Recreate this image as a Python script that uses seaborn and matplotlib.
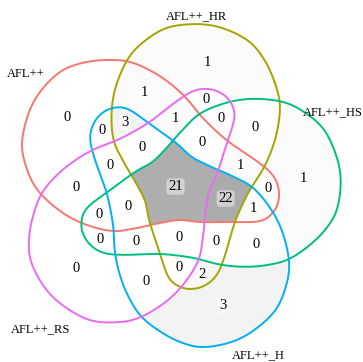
import numpy as np
import pandas as pd
import matplotlib
matplotlib.use("Agg")
import matplotlib.pyplot as plt
import seaborn as sns
from matplotlib.path import Path
from matplotlib.colors import LinearSegmentedColormap

sns.set_theme(style="white")
plt.rcParams["font.family"] = ["Liberation Serif", "DejaVu Serif"]

set_names = ["AFL++", "AFL++_HR", "AFL++_HS", "AFL++_H", "AFL++_RS"]
set_colors = ["#F8766D", "#A3A500", "#00BF7D", "#00B0F6", "#E76BF3"]

# membership string: one flag per set, in set_names order
region_codes = [
    "10000", "01000", "00100", "00010", "00001",
    "11000", "10100", "10010", "10001", "01100",
    "01010", "01001", "00110", "00101", "00011",
    "11100", "11010", "11001", "10110", "10101",
    "10011", "01110", "01101", "01011", "00111",
    "11110", "11101", "11011", "10111", "01111",
    "11111",
]
region_counts = [
    0, 1, 1, 3, 0,
    1, 0, 0, 0, 0,
    2, 0, 0, 0, 0,
    1, 3, 1, 1, 0,
    0, 0, 0, 0, 0,
    22, 0, 0, 0, 0,
    21,
]

# canvas in pixel units, y pointing down
W, H, DPI = 363, 362, 100
CENTER = (175.5, 186.5)
# outline of the first petal; the other four are copies turned by 72 degrees
PETAL = [(107, 60), (130, 62), (153, 72), (172, 85), (187, 99), (201, 116), (215, 130),
         (229, 142), (245, 153), (258, 162), (270, 172), (277, 183), (279, 197), (274, 211),
         (260, 221), (230, 222), (200, 222), (180, 220), (160, 223), (137, 228), (113, 231),
         (87, 225), (63, 213), (40, 193), (28, 172), (22, 145), (28, 115), (40, 92),
         (60, 72), (82, 63)]
# where each set name is written
NAME_POS = [(26, 74), (196, 16), (333, 112), (258, 355), (41, 329)]


def closed_spline(pts, n=30):
    P = np.asarray(pts, float)
    m = len(P)
    t = np.linspace(0, 1, n, endpoint=False)[:, None]
    segs = []
    for i in range(m):
        p0, p1, p2, p3 = P[(i - 1) % m], P[i], P[(i + 1) % m], P[(i + 2) % m]
        segs.append(0.5 * (2 * p1 + (p2 - p0) * t + (2 * p0 - 5 * p1 + 4 * p2 - p3) * t ** 2
                           + (3 * p1 - p0 - 3 * p2 + p3) * t ** 3))
    out = np.vstack(segs)
    return np.vstack([out, out[:1]])


base = closed_spline(PETAL)
outlines = []
for k in range(5):
    a = np.deg2rad(72 * k)
    d = base - np.array(CENTER)
    rx = CENTER[0] + np.cos(a) * d[:, 0] - np.sin(a) * d[:, 1]
    ry = CENTER[1] + np.sin(a) * d[:, 0] + np.cos(a) * d[:, 1]
    outlines.append(np.column_stack([rx, ry]))

# rasterise the regions
S = 2
gx = (np.arange(W * S) + 0.5) / S
gy = (np.arange(H * S) + 0.5) / S
GX, GY = np.meshgrid(gx, gy)
pts = np.column_stack([GX.ravel(), GY.ravel()])
member = np.stack([Path(o).contains_points(pts).reshape(GY.shape) for o in outlines])
code_grid = np.zeros(GY.shape, dtype=int)
for k in range(5):
    code_grid |= member[k].astype(int) << k


def code_to_int(code):
    return sum(1 << k for k, ch in enumerate(code) if ch == "1")


def anchor(mask):
    """Region centroid, pulled inside the region when the centroid falls near an edge."""
    ys, xs = np.nonzero(mask)
    mx, my = xs.mean(), ys.mean()
    depth = np.zeros(mask.shape, int)
    core = mask.copy()
    while core.any():
        depth += core
        nxt = core.copy()
        nxt[1:, :] &= core[:-1, :]
        nxt[:-1, :] &= core[1:, :]
        nxt[:, 1:] &= core[:, :-1]
        nxt[:, :-1] &= core[:, 1:]
        core = nxt
    iy, ix = int(round(my)), int(round(mx))
    if depth[iy, ix] >= 0.25 * depth.max():
        return (mx + 0.5) / S, (my + 0.5) / S
    ok = depth >= 0.5 * depth.max()
    yy, xx = np.nonzero(ok)
    i = np.argmin((xx - mx) ** 2 + (yy - my) ** 2)
    return (xx[i] + 0.5) / S, (yy[i] + 0.5) / S


count_of = {code_to_int(c): v for c, v in zip(region_codes, region_counts)}
fill = np.full(GY.shape, np.nan)
for c, v in count_of.items():
    fill[code_grid == c] = v

fig = plt.figure(figsize=(W / DPI, H / DPI), dpi=DPI)
ax = fig.add_axes([0, 0, 1, 1])
cmap = LinearSegmentedColormap.from_list("count", ["#FFFFFF", "#ABABAB"])
cmap.set_bad("white")
ax.imshow(np.ma.masked_invalid(fill), cmap=cmap, vmin=0, vmax=max(region_counts),
          extent=(0, W, H, 0), origin="upper", interpolation="bilinear")

rows = []
for k, o in enumerate(outlines):
    rows.append(pd.DataFrame({"x": o[:, 0], "y": o[:, 1], "set": set_names[k]}))
df = pd.concat(rows)
sns.lineplot(data=df, x="x", y="y", hue="set", palette=set_colors, sort=False,
             estimator=None, units="set", lw=1.4, legend=False, ax=ax)

for code, v in zip(region_codes, region_counts):
    m = code_grid == code_to_int(code)
    if not m.any():
        continue
    x, y = anchor(m)
    ax.text(x, y, str(v), ha="center", va="center", fontsize=10.5, color="black",
            bbox=dict(boxstyle="round,pad=0.12,rounding_size=0.25", fc="white",
                      ec="none", alpha=0.45))

for name, (x, y) in zip(set_names, NAME_POS):
    ax.text(x, y, name, ha="center", va="center", fontsize=9, color="black")

ax.set_xlim(0, W)
ax.set_ylim(H, 0)
ax.axis("off")
fig.savefig("out.png", dpi=DPI)
